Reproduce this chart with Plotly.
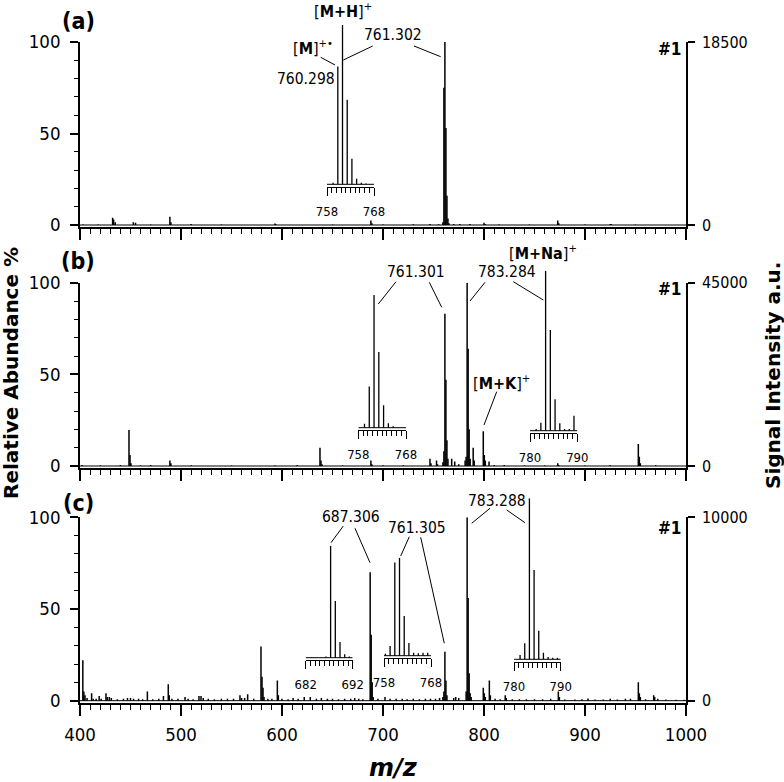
import plotly.graph_objects as go

W, H = 784, 782
FONT = "DejaVu Sans Condensed, Liberation Sans, DejaVu Sans, sans-serif"
FONT_WIDE = "DejaVu Sans, Liberation Sans, sans-serif"

# ---------------- main spectra (m/z, relative abundance %) ----------------
mz_a = [403, 418, 432.3, 433.3, 434.9, 452.8, 455, 470, 489, 490, 510, 540, 593, 594, 650,
        688, 689, 700, 730, 746.5, 755, 759.3, 760.3, 761.3, 762.3, 763.3, 764.3, 765.3,
        770, 776, 786, 800, 801, 815, 845, 873, 874, 900, 925, 926, 950]
ab_a = [0.3, 0.3, 4, 3, 1.5, 1.5, 1.2, 0.3, 4.5, 1.5, 0.6, 0.3, 0.8, 0.4, 0.3,
        2.5, 1, 0.3, 0.4, 0.6, 0.4, 1.5, 75, 100, 53, 16, 3.5, 1,
        0.6, 0.5, 0.5, 1.2, 0.5, 0.3, 0.3, 2.5, 1, 0.3, 0.6, 0.5, 0.3]

mz_b = [402, 420, 440, 448.5, 449.5, 450.5, 460, 470, 489, 490, 510, 550, 593, 615,
        637.6, 638.6, 639.6, 660, 688, 689, 700, 720, 746.5, 747.5, 753, 754, 759.3,
        760.3, 761.3, 762.3, 763.3, 764.3, 768, 771, 775, 781.3, 782.3, 783.3, 784.3,
        785.3, 786.3, 789.3, 790.3, 799.3, 800.3, 801.3, 805, 810, 820, 840, 860, 873,
        874, 900, 925, 952.8, 953.8, 954.8, 970]
ab_b = [0.5, 0.3, 0.5, 19.6, 6, 1.5, 0.3, 0.5, 3, 1.5, 0.4, 0.3, 0.3, 0.6,
        10, 3, 1, 0.3, 3, 1, 0.4, 0.4, 4, 1.5, 3, 1, 2,
        8, 83, 47, 14, 4, 4, 2.5, 1, 3, 5, 100, 64,
        20, 4, 10, 3, 19, 6, 3, 2.5, 0.5, 0.6, 0.3, 0.3, 1.5,
        0.6, 0.3, 0.4, 12, 5, 1.5, 0.4]

mz_c = [402.8, 403.8, 405, 407, 411.5, 413, 416, 419, 421, 425.7, 427, 429, 431, 437, 443,
        447, 450, 453, 458, 462, 466.7, 472, 478, 482.6, 487.4, 488.4, 491, 497, 504, 507,
        512, 517.8, 519.8, 522, 527, 533, 540, 546, 552, 558.4, 560, 563, 566, 572, 579.2,
        580.2, 581.2, 582.2, 586, 590, 595.4, 596.4, 600, 606, 611, 616, 622, 628, 634,
        639, 645, 650, 656, 662, 668, 672, 676, 680, 687.3, 688.3, 689.3, 690.3, 695, 702,
        707, 713, 719, 724, 730, 736, 742, 747, 752, 756, 759.3, 760.3, 761.3, 762.3,
        763.3, 770, 772, 775, 782.3, 783.3, 784.3, 785.3, 786.3, 787.3, 799.3, 800.3,
        801.3, 805.3, 806.3, 811, 816, 821, 822, 828, 835, 842, 850, 858, 866, 873.6,
        874.6, 880, 890, 897, 903, 910, 918, 925, 932, 940, 945, 952.8, 953.8, 954.8,
        960, 968, 969, 972, 980, 990, 998]
ab_c = [22, 5, 3, 1.5, 4, 1, 1, 2.5, 1, 4, 2, 2, 1.5, 0.8, 1,
        1.5, 1.5, 1, 1, 0.8, 5, 0.8, 1, 2.5, 9, 3, 1, 1, 2, 1,
        0.8, 2.5, 2.5, 1.5, 1, 0.8, 1, 1, 1, 3, 1.5, 1.5, 3.5, 1, 29.5,
        13, 7, 2, 1, 1, 11, 3, 1, 0.8, 1.5, 1, 2, 2, 1,
        1.5, 1, 1, 0.8, 1, 1, 1.5, 1, 0.8, 70, 36, 10, 2, 1, 2,
        1, 1, 1, 0.8, 1, 0.8, 1, 1, 1, 1.5, 2, 5, 26.7, 11,
        3, 1.5, 2, 1.5, 5, 100, 56, 15, 4, 2, 7, 4,
        2, 11, 3, 1, 0.8, 3, 1.5, 0.8, 0.8, 0.8, 0.8, 0.8, 1, 5,
        2, 0.6, 0.6, 0.8, 1.2, 0.6, 0.6, 1, 0.6, 1, 1, 10, 4, 2,
        0.8, 3, 2, 1, 0.6, 0.5, 0.5]

signal_max = [18500, 45000, 10000]
x_ticks = [400, 500, 600, 700, 800, 900, 1000]

# ---------------- insets (zoomed isotope patterns, % of tallest) ----------------
ins_a1_mz = [759.3, 760.3, 761.3, 762.3, 763.3, 764.3, 765.3, 766.3]
ins_a1_ab = [1, 74, 100, 53, 16, 3.5, 1, 0.5]
ins_b1_mz = [759.3, 760.3, 761.3, 762.3, 763.3, 764.3, 765.3]
ins_b1_ab = [3, 31, 100, 57, 17, 3.4, 1]
ins_b2_mz = [781.3, 782.3, 783.3, 784.3, 785.3, 786.3, 787.3, 788.3, 789.3]
ins_b2_ab = [1, 5, 100, 63, 19.6, 4.6, 1, 1, 9.4]
ins_c1_mz = [683.3, 686.3, 687.3, 688.3, 689.3, 690.3, 691.3]
ins_c1_ab = [0.5, 1, 100, 50.6, 14, 3, 1]
ins_c2_mz = [758.3, 759.3, 760.3, 761.3, 762.3, 763.3, 764.3, 765.3, 766.3, 767.3]
ins_c2_ab = [2, 10, 95, 100, 40.5, 13, 3, 2.5, 3, 3]
ins_c3_mz = [781.3, 782.3, 783.3, 784.3, 785.3, 786.3, 787.3, 788.3, 789.3]
ins_c3_ab = [2.6, 10, 100, 55.5, 17.8, 4, 1.5, 1, 1]


def px_x(p):
    return p / W


def px_y(p):
    return 1 - p / H


def sticks(mz, ab):
    xs, ys = [], []
    for m, a in zip(mz, ab):
        xs += [m, m, None]
        ys += [0, a, None]
    return xs, ys


fig = go.Figure()

# main panel geometry (pixel rows of 0 % and 100 %)
main_geo = [(225, 42), (466, 282.7), (700.7, 517.3)]
spectra = [(mz_a, ab_a), (mz_b, ab_b), (mz_c, ab_c)]
LOW = 1.2

layout = dict(
    width=W, height=H, margin=dict(l=0, r=0, t=0, b=0, pad=0, autoexpand=False),
    paper_bgcolor="white", plot_bgcolor="rgba(0,0,0,0)",
    showlegend=False, font=dict(family=FONT, color="black"),
)

for i, ((p0, p100), (mz, ab), smax) in enumerate(zip(main_geo, spectra, signal_max)):
    n = i + 1
    ppu = (p0 - p100) / 100.0
    bottom = p0 + LOW * ppu
    ydom = [px_y(bottom), px_y(p100)]
    xs, ys = sticks(mz, ab)
    fig.add_trace(go.Scatter(x=[400, 1000], y=[0, 0], mode="lines",
                             line=dict(color="black", width=1),
                             xaxis=f"x{n}", yaxis=f"y{n}", hoverinfo="skip"))
    fig.add_trace(go.Scatter(x=xs, y=ys, mode="lines",
                             line=dict(color="black", width=1.5),
                             xaxis=f"x{n}", yaxis=f"y{n}", hoverinfo="skip"))
    layout[f"xaxis{n}" if n > 1 else "xaxis"] = dict(
        domain=[px_x(80), px_x(686)], range=[400, 1000], anchor=f"y{n}",
        showline=True, linecolor="black", linewidth=1.5, showgrid=False, zeroline=False,
        ticks="outside", tickmode="array", tickvals=x_ticks, ticklen=11, tickwidth=1.5,
        tickcolor="black", automargin=False,
        minor=dict(ticks="outside", dtick=10, tick0=400, ticklen=5, tickwidth=1.2,
                   tickcolor="black", showgrid=False),
        showticklabels=(n == 3), tickfont=dict(size=18.5, family=FONT),
        ticklabelstandoff=3,
    )
    layout[f"yaxis{n}" if n > 1 else "yaxis"] = dict(
        domain=ydom, range=[-LOW, 100], anchor=f"x{n}", side="left",
        showline=True, linecolor="black", linewidth=1.5, showgrid=False, zeroline=False,
        ticks="outside", tick0=0, dtick=50, ticklen=8, tickwidth=1.5, tickcolor="black",
        automargin=False,
        minor=dict(ticks="outside", dtick=10, tick0=0, ticklen=4, tickwidth=1.2,
                   tickcolor="black", showgrid=False),
        tickfont=dict(size=18.5, family=FONT), ticklabelstandoff=6,
    )
    k = smax / 100.0
    layout[f"yaxis{n + 3}"] = dict(
        domain=ydom, range=[-LOW * k, 100 * k], anchor=f"x{n}", overlaying=f"y{n}",
        side="right", showline=True, linecolor="black", linewidth=1.5, automargin=False,
        showgrid=False, zeroline=False, ticks="outside", tickvals=[0, smax],
        ticktext=["0", str(smax)], ticklen=7, tickwidth=1.5, tickcolor="black",
        tickfont=dict(size=16, family=FONT), ticklabelstandoff=4,
    )
    fig.add_trace(go.Scatter(x=[400], y=[0], mode="markers", marker=dict(opacity=0),
                             xaxis=f"x{n}", yaxis=f"y{n + 3}", hoverinfo="skip"))

# insets: (mz, ab, lo, hi, x_px_lo, x_px_hi, baseline_px, top_px)
insets = [
    (ins_a1_mz, ins_a1_ab, 758, 768, 327, 374, 184.3, 25),
    (ins_b1_mz, ins_b1_ab, 758, 768, 358.3, 406, 427.7, 295),
    (ins_b2_mz, ins_b2_ab, 780, 790, 530, 577.3, 430.7, 270.7),
    (ins_c1_mz, ins_c1_ab, 682, 692, 305.7, 352.7, 657.7, 545.7),
    (ins_c2_mz, ins_c2_ab, 758, 768, 384, 431, 655.7, 557.7),
    (ins_c3_mz, ins_c3_ab, 780, 790, 514, 560.7, 659.3, 498.3),
]
for j, (mz, ab, lo, hi, xl, xr, base, top) in enumerate(insets):
    xn = 4 + j
    yn = 7 + j
    gap = 2.5
    r = gap * 100.0 / (base - top)
    xs, ys = sticks(mz, ab)
    fig.add_trace(go.Scatter(x=[lo, hi], y=[0, 0], mode="lines",
                             line=dict(color="black", width=1),
                             xaxis=f"x{xn}", yaxis=f"y{yn}", hoverinfo="skip"))
    fig.add_trace(go.Scatter(x=xs, y=ys, mode="lines",
                             line=dict(color="black", width=1.3),
                             xaxis=f"x{xn}", yaxis=f"y{yn}", hoverinfo="skip"))
    layout[f"xaxis{xn}"] = dict(
        domain=[px_x(xl), px_x(xr)], range=[lo, hi], anchor=f"y{yn}",
        showline=True, linecolor="black", linewidth=1.2, showgrid=False, zeroline=False,
        ticks="outside", tickmode="array", tickvals=[lo, hi], ticklen=8, tickwidth=1.2,
        tickcolor="black", automargin=False,
        minor=dict(ticks="outside", dtick=1, tick0=lo, ticklen=5, tickwidth=1,
                   tickcolor="black", showgrid=False),
        tickfont=dict(size=13, family=FONT), ticklabelstandoff=4,
    )
    layout[f"yaxis{yn}"] = dict(
        domain=[px_y(base + gap), px_y(top)], range=[-r, 100], anchor=f"x{xn}",
        visible=False, showgrid=False, zeroline=False, automargin=False,
    )

fig.update_layout(**layout)

# ---------------- text annotations ----------------
labels = [
    ("<b>(a)</b>", 78, 21, 23, FONT), ("<b>(b)</b>", 78, 261, 23, FONT),
    ("<b>(c)</b>", 78, 503, 23, FONT),
    ("[<b>M+H</b>]<sup>+</sup>", 343, 11, 16, FONT),
    ("761.302", 392.5, 35, 15.5, FONT),
    ("[<b>M</b>]<sup>+•</sup>", 313, 48, 16, FONT),
    ("760.298", 306, 79, 15.5, FONT),
    ("761.301", 416, 272, 15.5, FONT),
    ("783.284", 507, 272, 15.5, FONT),
    ("[<b>M+Na</b>]<sup>+</sup>", 543, 252, 16, FONT),
    ("[<b>M+K</b>]<sup>+</sup>", 502, 382, 16, FONT),
    ("687.306", 351, 517, 15.5, FONT),
    ("761.305", 416.7, 528, 15.5, FONT),
    ("783.288", 497, 501, 15.5, FONT),
    ("<b><i>m/z</i></b>", 393, 768, 24, FONT_WIDE),
]
anns = []
for t, cx, cy, sz, fam in labels:
    anns.append(dict(text=t, x=px_x(cx), y=px_y(cy), xref="paper", yref="paper",
                     xanchor="center", yanchor="middle", showarrow=False,
                     font=dict(size=sz, family=fam, color="black")))
for cy in [49, 289, 527.5]:
    anns.append(dict(text="<b>#1</b>", x=px_x(683), y=px_y(cy), xref="paper", yref="paper",
                     xanchor="right", yanchor="middle", showarrow=False,
                     font=dict(size=17, family=FONT, color="black")))
anns.append(dict(text="<b>Relative Abundance %</b>", x=px_x(11), y=px_y(373),
                 xref="paper", yref="paper", textangle=-90, showarrow=False,
                 xanchor="center", yanchor="middle",
                 font=dict(size=20, family=FONT_WIDE, color="black")))
anns.append(dict(text="<b>Signal Intensity a.u.</b>", x=px_x(773), y=px_y(376),
                 xref="paper", yref="paper", textangle=-90, showarrow=False,
                 xanchor="center", yanchor="middle",
                 font=dict(size=20, family=FONT_WIDE, color="black")))
fig.update_layout(annotations=anns)

# leader lines from labels to peaks
leaders = [
    (372.7, 46, 343.3, 60), (414, 46, 440.7, 56.7), (320.7, 57.3, 335, 65),
    (396, 281.7, 378.3, 304), (429.3, 282.3, 441.7, 307.3), (485, 282.3, 470, 301),
    (513.3, 281.7, 543.3, 300), (496.7, 391.7, 484, 425),
    (343.3, 526, 331, 542.7), (355, 528.3, 370, 562.7), (409.3, 536.7, 400.7, 556),
    (420.7, 537.3, 444.3, 643.3), (490, 508.3, 471.7, 523.3), (506.7, 510, 525, 522.7),
]
shapes = []
for x0, y0, x1, y1 in leaders:
    shapes.append(dict(type="line", xref="paper", yref="paper",
                       x0=px_x(x0), y0=px_y(y0), x1=px_x(x1), y1=px_y(y1),
                       line=dict(color="black", width=1)))
fig.update_layout(shapes=shapes)

fig.write_html("out.html", config={"displayModeBar": False},
               post_script="document.body.style.margin='0px';")
